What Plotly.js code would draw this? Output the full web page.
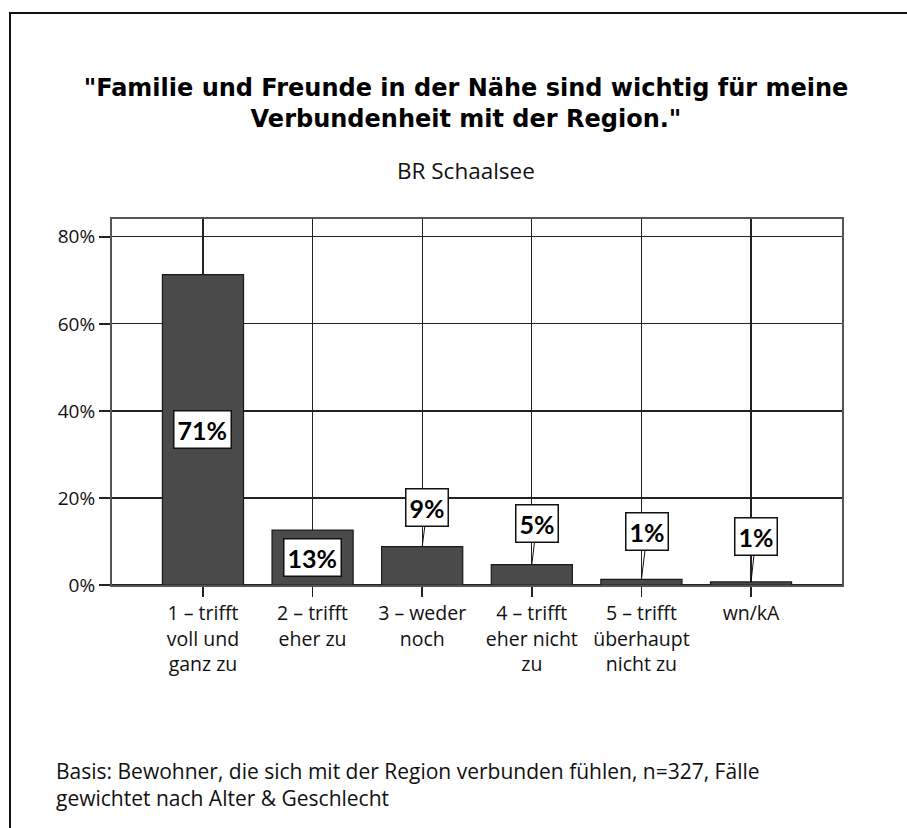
<!DOCTYPE html>
<html>
<head>
<meta charset="utf-8">
<script src="https://cdn.plot.ly/plotly-3.0.1.min.js"></script>
<style>
  html, body { margin: 0; padding: 0; background: #fff; overflow: hidden; }
  #chart { width: 907px; height: 828px; }
</style>
</head>
<body>
<div id="chart"></div>
<script>
// ---- data ----
const categories = [
  "1 – trifft<br>voll und<br>ganz zu",
  "2 – trifft<br>eher zu",
  "3 – weder<br>noch",
  "4 – trifft<br>eher nicht<br>zu",
  "5 – trifft<br>überhaupt<br>nicht zu",
  "wn/kA"
];
const values = [71.3, 12.6, 8.8, 4.7, 1.3, 0.7];
const valueLabels = ["71%", "13%", "9%", "5%", "1%", "1%"];
const yTickVals = [0, 20, 40, 60, 80];
const yTickText = ["0%", "20%", "40%", "60%", "80%"];
const titleText = '"Familie und Freunde in der Nähe sind wichtig für meine<br>Verbundenheit mit der Region."';
const subtitleText = "BR Schaalsee";
const footerText = "Basis: Bewohner, die sich mit der Region verbunden fühlen, n=327, Fälle<br>gewichtet nach Alter &amp; Geschlecht";

// ---- layout constants (styles) ----
const W = 907, H = 828;
const M = { l: 112, r: 65, t: 219, b: 243 };
const PW = W - M.l - M.r, PH = H - M.t - M.b;
const FONT = "'Open Sans', Lato, sans-serif";
const LFONT = "Lato, 'Open Sans', sans-serif";
const px2paperX = px => (px - M.l) / PW;
const px2paperY = py => (H - M.b - py) / PH;

// label offsets for labels placed above small bars (pixels)
const outsideOffsets = [null, null, [5, -39], [5, -41], [6, -48], [5, -45]];

const annotations = [];
values.forEach((v, i) => {
  const common = {
    x: i,
    text: valueLabels[i],
    font: { family: LFONT, size: 25, color: "#000", weight: 700 },
    bgcolor: "#fff",
    bordercolor: "#111",
    borderwidth: 1.5,
    borderpad: 3
  };
  if (outsideOffsets[i] === null) {
    annotations.push(Object.assign(common, { y: v / 2, showarrow: false }));
  } else {
    annotations.push(Object.assign(common, {
      y: v, showarrow: true, arrowhead: 0, arrowwidth: 1, arrowcolor: "#111",
      standoff: 0, ax: outsideOffsets[i][0], ay: outsideOffsets[i][1]
    }));
  }
});

annotations.push({
  xref: "paper", yref: "paper",
  x: px2paperX(466), y: px2paperY(170),
  text: subtitleText, showarrow: false,
  font: { family: FONT, size: 22.5, color: "#111" },
  xanchor: "center", yanchor: "middle"
});
annotations.push({
  xref: "paper", yref: "paper",
  x: px2paperX(54), y: px2paperY(784),
  text: footerText, showarrow: false, align: "left",
  font: { family: FONT, size: 21, color: "#111" },
  xanchor: "left", yanchor: "middle"
});

const trace = {
  type: "bar",
  x: categories,
  y: values,
  width: 0.74,
  marker: { color: "#4a4a4a", line: { color: "#1a1a1a", width: 1.2 } },
  hoverinfo: "skip"
};

// outer frame (top and left edges only), drawn as one path in paper coordinates
const fx = px2paperX(10), fy = px2paperY(13), fxr = px2paperX(W + 10), fyb = px2paperY(H + 10);
const framePath = "M " + fxr + " " + fy + " L " + fx + " " + fy + " L " + fx + " " + fyb;

const layout = {
  width: W, height: H,
  margin: M,
  paper_bgcolor: "#fff",
  plot_bgcolor: "#fff",
  showlegend: false,
  font: { family: FONT, color: "#111" },
  title: {
    text: titleText,
    font: { family: "'DejaVu Sans', 'Open Sans', sans-serif", size: 24, color: "#000", weight: 700 },
    xref: "container", yref: "container",
    x: 466 / W, y: 1 - 96 / H, xanchor: "center", yanchor: "middle"
  },
  xaxis: {
    type: "category",
    range: [-0.83, 5.83],
    showgrid: true, gridcolor: "#222", gridwidth: 1.2,
    showline: true, linecolor: "#555", linewidth: 2, mirror: true,
    ticks: "outside", ticklen: 10, tickwidth: 1.5, tickcolor: "#222",
    tickfont: { family: FONT, size: 19.5, color: "#111" },
    fixedrange: true, zeroline: false
  },
  yaxis: {
    range: [0, 84.1],
    tickvals: yTickVals, ticktext: yTickText,
    showgrid: true, gridcolor: "#222", gridwidth: 1.2,
    showline: true, linecolor: "#555", linewidth: 2, mirror: true,
    ticks: "outside", ticklen: 11, tickwidth: 1.5, tickcolor: "#222",
    tickfont: { family: FONT, size: 19, color: "#111" },
    zeroline: true, zerolinecolor: "#222", zerolinewidth: 1.5,
    fixedrange: true
  },
  annotations: annotations,
  shapes: [
    { type: "path", xref: "paper", yref: "paper", path: framePath,
      line: { color: "#111", width: 2 } }
  ]
};

Plotly.newPlot("chart", [trace], layout, { displayModeBar: false, staticPlot: true });
</script>
</body>
</html>
